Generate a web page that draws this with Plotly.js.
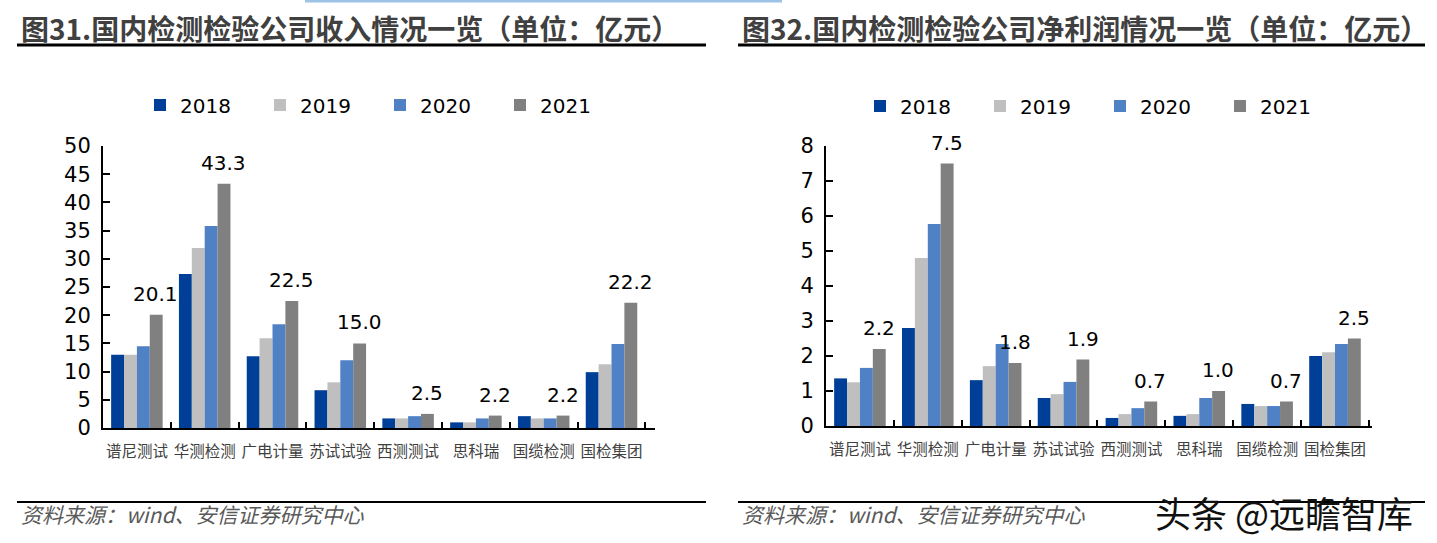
<!DOCTYPE html>
<html>
<head>
<meta charset="utf-8">
<script src="https://cdn.plot.ly/plotly-3.0.1.min.js"></script>
<style>html,body{margin:0;padding:0;background:#fff;}#chart{width:1437px;height:543px;}</style>
</head>
<body>
<div id="chart"></div>
<script>
const categories = ["谱尼测试","华测检测","广电计量","苏试试验","西测测试","思科瑞","国缆检测","国检集团"];
const years = ["2018","2019","2020","2021"];
const colors = ["#003F98","#BFBFBF","#4F81C4","#808080"];

// 图31 收入（亿元）
const revenue2018 = [13.0, 27.3, 12.7, 6.7, 1.7, 1.0, 2.1, 9.9];
const revenue2019 = [13.0, 31.9, 15.9, 8.1, 1.7, 1.0, 1.7, 11.3];
const revenue2020 = [14.5, 35.8, 18.4, 12.0, 2.1, 1.7, 1.7, 14.9];
const revenue2021 = [20.1, 43.3, 22.5, 15.0, 2.5, 2.2, 2.2, 22.2];

// 图32 净利润（亿元）
const profit2018 = [1.36, 2.80, 1.31, 0.80, 0.23, 0.29, 0.63, 2.00];
const profit2019 = [1.25, 4.80, 1.71, 0.91, 0.34, 0.34, 0.57, 2.11];
const profit2020 = [1.66, 5.77, 2.34, 1.26, 0.51, 0.80, 0.57, 2.34];
const profit2021 = [2.2, 7.5, 1.8, 1.9, 0.7, 1.0, 0.7, 2.5];

const revenueTicks = [0,5,10,15,20,25,30,35,40,45,50];
const profitTicks = [0,1,2,3,4,5,6,7,8];

const title1 = "图31.国内检测检验公司收入情况一览（单位：亿元）";
const title2 = "图32.国内检测检验公司净利润情况一览（单位：亿元）";
const sourceText = "资料来源：wind、安信证券研究中心";
const watermark = "头条 @远瞻智库";

const revenueSeries = [revenue2018, revenue2019, revenue2020, revenue2021];
const profitSeries = [profit2018, profit2019, profit2020, profit2021];

const labelFont = {family:"DejaVu Sans, Verdana, sans-serif", size:20, color:"#000"};

const traces = [];
function addSeries(series, xa, ya, lg) {
  series.forEach((vals, i) => {
    traces.push({type:"bar", x:categories, y:vals, name:years[i], marker:{color:colors[i]},
      xaxis:xa, yaxis:ya, legend:lg, hoverinfo:"y"});
  });
}
addSeries(revenueSeries, "x", "y", "legend");
addSeries(profitSeries, "x2", "y2", "legend2");

const W = 1437, H = 543;
const px = v => v / W;
const py = v => 1 - v / H;

// value labels above the 2021 bars
const valueLabels = [];
function addLabels(vals, xa, ya) {
  vals.forEach((v, k) => {
    valueLabels.push({xref:xa, yref:ya, x:categories[k], y:v, text:v.toFixed(1),
      showarrow:false, xanchor:"center", yanchor:"bottom", xshift:19, yshift:7, font:labelFont});
  });
}
addLabels(revenue2021, "x", "y");
addLabels(profit2021, "x2", "y2");

const tickFontY = {family:"DejaVu Sans, Verdana, sans-serif", size:21, color:"#000"};
const tickFontX = {family:"Noto Sans CJK SC, sans-serif", size:15.5, color:"#404040"};

const xaxisBase = {
  type:"category", showgrid:false, zeroline:false, showline:true, linecolor:"#000", linewidth:2,
  ticks:"inside", ticklen:6, tickcolor:"#000", tickwidth:2, tickson:"boundaries",
  tickfont:tickFontX, tickangle:0, automargin:false, fixedrange:true, ticklabelstandoff:8
};
const yaxisBase = {
  showgrid:false, zeroline:false, showline:true, linecolor:"#000", linewidth:2,
  ticks:"inside", ticklen:7, tickcolor:"#000", tickwidth:2, tickfont:tickFontY,
  tickmode:"array", automargin:false, fixedrange:true, ticklabelstandoff:6
};

const legendBase = {orientation:"h", xanchor:"left", yanchor:"middle",
  font:{family:"DejaVu Sans, Verdana, sans-serif", size:20, color:"#000"},
  entrywidth:75, entrywidthmode:"pixels", itemwidth:30, bgcolor:"rgba(0,0,0,0)", tracegroupgap:0};

const layout = {
  width:W, height:H, margin:{l:0,r:0,t:0,b:0,autoexpand:false}, paper_bgcolor:"#fff", plot_bgcolor:"#fff",
  barmode:"group", bargap:0.24, bargroupgap:0, showlegend:true,
  xaxis:Object.assign({}, xaxisBase, {domain:[px(103), px(655)], anchor:"y"}),
  yaxis:Object.assign({}, yaxisBase, {domain:[1-428/H, 1-146/H], range:[0,50], tickvals:revenueTicks, anchor:"x"}),
  xaxis2:Object.assign({}, xaxisBase, {domain:[px(826), px(1372)], anchor:"y2"}),
  yaxis2:Object.assign({}, yaxisBase, {domain:[1-426/H, 1-146/H], range:[0,8], tickvals:profitTicks, anchor:"x2"}),
  legend:Object.assign({}, legendBase, {x:px(140), y:py(105)}),
  legend2:Object.assign({}, legendBase, {x:px(860), y:py(106)}),
  shapes:[
    {type:"line", xref:"paper", yref:"paper", x0:px(17), x1:px(706), y0:py(45), y1:py(45), line:{color:"#000", width:3}},
    {type:"line", xref:"paper", yref:"paper", x0:px(738), x1:px(1425), y0:py(45), y1:py(45), line:{color:"#000", width:3}},
    {type:"line", xref:"paper", yref:"paper", x0:px(17), x1:px(706), y0:py(502), y1:py(502), line:{color:"#000", width:2}},
    {type:"line", xref:"paper", yref:"paper", x0:px(738), x1:px(1425), y0:py(502), y1:py(502), line:{color:"#000", width:2}},
    {type:"line", xref:"paper", yref:"paper", x0:px(305), x1:px(782), y0:py(1), y1:py(1), line:{color:"#9DC3E6", width:3}}
  ],
  annotations:[
    {xref:"paper", yref:"paper", x:px(19), y:py(28), xanchor:"left", yanchor:"middle", showarrow:false,
     text:"<b>"+title1+"</b>", font:{family:"Noto Sans CJK SC, sans-serif", size:28, color:"#404040"}},
    {xref:"paper", yref:"paper", x:px(740), y:py(28), xanchor:"left", yanchor:"middle", showarrow:false,
     text:"<b>"+title2+"</b>", font:{family:"Noto Sans CJK SC, sans-serif", size:28, color:"#404040"}},
    {xref:"paper", yref:"paper", x:px(19), y:py(514), xanchor:"left", yanchor:"middle", showarrow:false,
     text:"<i>"+sourceText+"</i>", font:{family:"Noto Sans CJK SC, sans-serif", size:21, color:"#595959"}},
    {xref:"paper", yref:"paper", x:px(740), y:py(514), xanchor:"left", yanchor:"middle", showarrow:false,
     text:"<i>"+sourceText+"</i>", font:{family:"Noto Sans CJK SC, sans-serif", size:21, color:"#595959"}},
    {xref:"paper", yref:"paper", x:px(1153), y:py(512), xanchor:"left", yanchor:"middle", showarrow:false,
     text:watermark, bgcolor:"rgba(255,255,255,0)", font:{family:"Noto Sans CJK SC, sans-serif", size:36, color:"#111"}}
  ].concat(valueLabels)
};

Plotly.newPlot("chart", traces, layout, {displayModeBar:false, staticPlot:true});
</script>
</body>
</html>
